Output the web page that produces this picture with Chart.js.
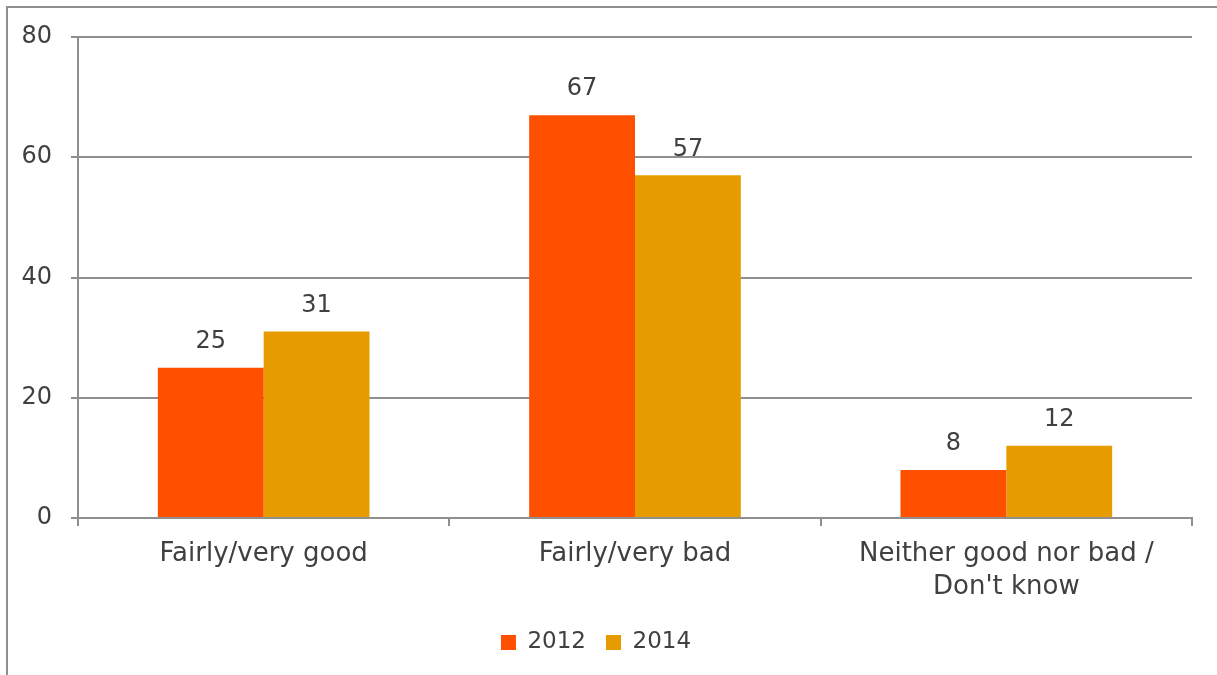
<!DOCTYPE html>
<html>
<head>
<meta charset="utf-8">
<script src="https://cdn.jsdelivr.net/npm/chart.js@4"></script>
<style>
  body { margin: 0; background: #fff; }
  #wrap { position: relative; width: 1217px; height: 675px; }
  #frame {
    position: absolute; left: 6px; top: 6px; right: 0; bottom: 0;
    border-left: 2px solid #8f8f8f; border-top: 2px solid #8f8f8f;
    pointer-events: none;
  }
</style>
</head>
<body>
<div id="wrap">
  <canvas id="surveyChart"></canvas>
  <div id="frame"></div>
</div>
<script>
const categories = [
    'Fairly/very good',
    'Fairly/very bad',
    ['Neither good nor bad /', "Don't know"]
];
const values2012 = [25, 67, 8];
const values2014 = [31, 57, 12];
const yTicks = [0, 20, 40, 60, 80];

const textColor = '#404040';
const lineColor = '#8f8f8f';
const fontFamily = '"DejaVu Sans", sans-serif';

// write the value above each bar
const barValues = {
    id: 'barValues',
    afterDatasetsDraw(chart) {
        const ctx = chart.ctx;
        ctx.save();
        ctx.font = '24px ' + fontFamily;
        ctx.fillStyle = textColor;
        ctx.textAlign = 'center';
        ctx.textBaseline = 'middle';
        chart.data.datasets.forEach((ds, i) => {
            chart.getDatasetMeta(i).data.forEach((bar, j) => {
                ctx.fillText(ds.data[j], bar.x, bar.y - 26);
            });
        });
        ctx.restore();
    }
};

const ctx = document.getElementById('surveyChart').getContext('2d');
const surveyChart = new Chart(ctx, {
    type: 'bar',
    data: {
        labels: categories,
        datasets: [
            { label: '2012', data: values2012, backgroundColor: '#ff5000' },
            { label: '2014', data: values2014, backgroundColor: '#e69c00' }
        ]
    },
    options: {
        responsive: true,
        maintainAspectRatio: false,
        animation: false,
        events: [],
        layout: { padding: { top: 37, right: 25, left: 0, bottom: 11 } },
        datasets: {
            bar: { barPercentage: 1, categoryPercentage: 0.57 }
        },
        scales: {
            x: {
                grid: {
                    drawOnChartArea: false,
                    drawTicks: true,
                    tickLength: 8,
                    color: lineColor,
                    lineWidth: 2
                },
                border: { display: true, color: lineColor, width: 2 },
                ticks: {
                    color: textColor,
                    padding: 12,
                    maxRotation: 0,
                    font: { family: fontFamily, size: 26, lineHeight: '33px' }
                },
                afterFit(scale) { scale.height = 93; }
            },
            y: {
                min: 0,
                max: 80,
                afterBuildTicks(scale) {
                    scale.ticks = yTicks.map(v => ({ value: v }));
                },
                grid: {
                    color: lineColor,
                    lineWidth: 2,
                    tickLength: 7
                },
                border: { display: true, color: lineColor, width: 2 },
                ticks: {
                    color: textColor,
                    padding: 19,
                    font: { family: fontFamily, size: 24 }
                },
                afterFit(scale) { scale.width = 78; }
            }
        },
        plugins: {
            tooltip: { enabled: false },
            legend: {
                position: 'bottom',
                labels: {
                    color: textColor,
                    boxWidth: 15,
                    boxHeight: 15,
                    padding: 20,
                    font: { family: fontFamily, size: 23 }
                }
            }
        }
    },
    plugins: [barValues]
});
</script>
</body>
</html>
